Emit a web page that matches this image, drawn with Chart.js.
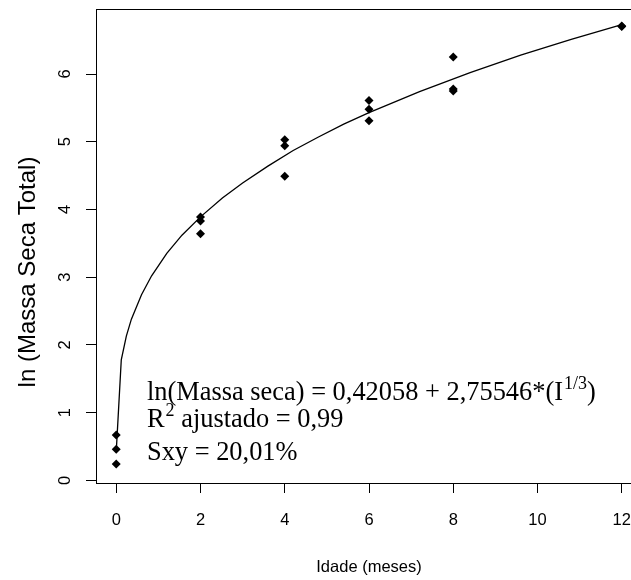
<!DOCTYPE html>
<html>
<head>
<meta charset="utf-8">
<script src="https://cdn.jsdelivr.net/npm/chart.js@4/dist/chart.umd.min.js"></script>
<style>
  html, body { margin: 0; padding: 0; background: #fff; overflow: hidden; }
  #wrap { width: 660px; height: 580px; }
</style>
</head>
<body>
<div id="wrap"><canvas id="chart" width="660" height="580"></canvas></div>
<script>
// observed points: age (months) vs ln(total dry mass)
const ageMonths = [0, 0, 0, 2, 2, 2, 4, 4, 4, 6, 6, 6, 8, 8, 8, 12, 12];
const lnMass = [0.67, 0.46, 0.24, 3.89, 3.83, 3.64, 5.03, 4.94, 4.49, 5.61, 5.48, 5.31, 6.25, 5.78, 5.75, 6.71, 6.70];

// fitted curve
const curveAge = [0, 0.12, 0.24, 0.36, 0.6, 0.84, 1.2, 1.56, 2, 2.52, 3, 3.6, 4.2, 4.8, 5.4, 6, 7.2, 8.4, 9.6, 10.8, 12];
const curveLnMass = [0.42, 1.78, 2.13, 2.38, 2.74, 3.02, 3.35, 3.62, 3.89, 4.17, 4.39, 4.64, 4.87, 5.07, 5.26, 5.43, 5.74, 6.02, 6.28, 6.51, 6.73];

const xTicks = [0, 2, 4, 6, 8, 10, 12];
const yTicks = [0, 1, 2, 3, 4, 5, 6];
const xRange = [-0.48, 12.48];
const yRange = [-0.04, 6.96];

const xTitle = 'Idade (meses)';
const yTitle = 'ln (Massa Seca Total)';

// annotation lines: [text, superscript, tail]
const noteLines = [
    ['ln(Massa seca) = 0,42058 + 2,75546*(I', '1/3', ')'],
    ['R', '2', ' ajustado = 0,99'],
    ['Sxy = 20,01%', '', '']
];

const SANS = '"Liberation Sans", Arial, sans-serif';
const SERIF = '"Liberation Serif", "Times New Roman", serif';

const rPlot = {
    id: 'rPlot',
    afterDraw(chart) {
        const ctx = chart.ctx;
        const a = chart.chartArea;
        const xs = chart.scales.x;
        const ys = chart.scales.y;
        ctx.save();

        // box round the plot region
        ctx.strokeStyle = '#000';
        ctx.lineWidth = 1;
        ctx.strokeRect(Math.round(a.left) + 0.5, Math.round(a.top) + 0.5,
            Math.round(a.right - a.left), Math.round(a.bottom - a.top));

        ctx.fillStyle = '#000';
        ctx.font = '16.5px ' + SANS;
        ctx.textAlign = 'center';
        ctx.textBaseline = 'middle';

        xTicks.forEach(v => ctx.fillText(String(v), xs.getPixelForValue(v), 520));
        ctx.fillText(xTitle, (a.left + a.right) / 2, 567);

        yTicks.forEach(v => {
            ctx.save();
            ctx.translate(65, ys.getPixelForValue(v));
            ctx.rotate(-Math.PI / 2);
            ctx.fillText(String(v), 0, 0);
            ctx.restore();
        });
        ctx.save();
        ctx.font = '24px ' + SANS;
        ctx.translate(28, 272);
        ctx.rotate(-Math.PI / 2);
        ctx.fillText(yTitle, 0, 0);
        ctx.restore();

        // equation text
        const size = 26.4;
        const baselines = [400, 427, 460];
        ctx.textAlign = 'left';
        ctx.textBaseline = 'alphabetic';
        noteLines.forEach((ln, i) => {
            let x = 147;
            const y = baselines[i];
            ctx.font = size + 'px ' + SERIF;
            ctx.fillText(ln[0], x, y);
            x += ctx.measureText(ln[0]).width;
            if (ln[1]) {
                ctx.font = Math.round(size * 0.7) + 'px ' + SERIF;
                ctx.fillText(ln[1], x + 1, y - size * 0.42);
                x += ctx.measureText(ln[1]).width + 1;
            }
            if (ln[2]) {
                ctx.font = size + 'px ' + SERIF;
                ctx.fillText(ln[2], x, y);
            }
        });
        ctx.restore();
    }
};

const ctx = document.getElementById('chart').getContext('2d');
new Chart(ctx, {
    type: 'scatter',
    data: {
        datasets: [
            {
                label: 'ajuste',
                data: curveAge.map((x, i) => ({ x: x, y: curveLnMass[i] })),
                showLine: true,
                borderColor: '#000',
                borderWidth: 1.3,
                pointRadius: 0,
                tension: 0,
                order: 2
            },
            {
                label: 'observado',
                data: ageMonths.map((x, i) => ({ x: x, y: lnMass[i] })),
                pointStyle: 'rectRot',
                pointRadius: 4.5,
                backgroundColor: '#000',
                borderColor: '#000',
                borderWidth: 0,
                order: 1
            }
        ]
    },
    options: {
        responsive: false,
        animation: false,
        devicePixelRatio: 1,
        layout: { padding: { left: 0, top: 9, right: 18, bottom: 0 } },
        plugins: {
            legend: { display: false },
            tooltip: { enabled: false }
        },
        scales: {
            x: {
                type: 'linear',
                min: xRange[0],
                max: xRange[1],
                afterBuildTicks: s => { s.ticks = xTicks.map(v => ({ value: v })); },
                afterFit: s => { s.height = 97; },
                ticks: { display: false },
                border: { display: false },
                grid: { drawOnChartArea: false, drawTicks: true, tickLength: 10, color: '#000', lineWidth: 1 }
            },
            y: {
                type: 'linear',
                min: yRange[0],
                max: yRange[1],
                afterBuildTicks: s => { s.ticks = yTicks.map(v => ({ value: v })); },
                afterFit: s => { s.width = 96; },
                ticks: { display: false },
                border: { display: false },
                grid: { drawOnChartArea: false, drawTicks: true, tickLength: 10, color: '#000', lineWidth: 1 }
            }
        }
    },
    plugins: [rPlot]
});
</script>
</body>
</html>
